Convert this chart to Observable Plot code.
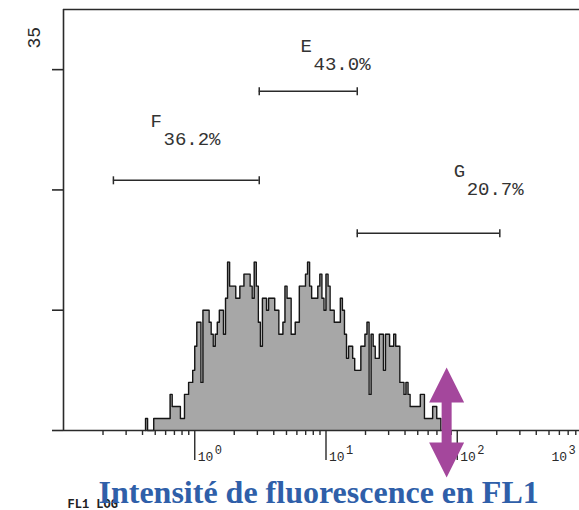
<!DOCTYPE html>
<html>
<head>
<meta charset="utf-8">
<script src="https://cdn.jsdelivr.net/npm/d3@7"></script>
<script src="https://cdn.jsdelivr.net/npm/@observablehq/plot@0.6"></script>
<style>
  html, body { margin: 0; padding: 0; background: #fff; overflow: hidden; }
</style>
</head>
<body>
<div id="chart"></div>
<script>
// FL1 fluorescence histogram: event counts per channel, 64 channels per decade from 10^-1
const channelsPerDecade = 64;
const firstChannel = 40;
const counts = [
  1, 0, 0, 0, 1, 1, 1, 1, 1, 1,
  1, 1, 3, 2, 2, 2, 2, 1, 1, 3,
  3, 4, 4, 5, 7, 9, 9, 4, 10, 10,
  10, 9, 8, 7, 8, 9, 10, 10, 8, 11,
  14, 12, 12, 12, 11, 11, 12, 12, 13, 13,
  13, 12, 11, 14, 12, 9, 7, 11, 11, 10,
  11, 11, 11, 10, 10, 8, 8, 9, 12, 11,
  11, 8, 8, 9, 9, 12, 12, 12, 13, 14,
  12, 11, 11, 11, 12, 13, 11, 10, 13, 12,
  10, 10, 9, 9, 9, 11, 10, 8, 6, 7,
  7, 6, 5, 5, 5, 7, 7, 8, 9, 3,
  8, 7, 6, 6, 8, 8, 5, 8, 8, 7,
  7, 8, 7, 7, 4, 4, 3, 4, 3, 2,
  2, 2, 2, 2, 3, 3, 1, 1, 1, 1,
  2, 2, 1, 1
];

// Marker gates (FL1 range, drawn at a count level) and their percentages
const gateNames = ["F", "E", "G"];
const gatePercents = [36.2, 43.0, 20.7];
const gateLow = [0.24, 3.1, 17.3];
const gateHigh = [3.1, 17.3, 211];
const gateLevel = [20.8, 28.2, 16.4];
const gateLabelFL1 = [0.46, 6.4, 93.9];
const gateLabelCount = [25.7, 32.0, 21.6];

// Axes
const xDomain = [0.1, 1000];
const yMax = 35;
const yTicks = [0, 10, 20, 30];
const decades = [1, 10, 100, 1000];
const decadeExponents = ["0", "1", "2", "3"];
const axisName = "FL1 LOG";
const title = "Intensité de fluorescence en FL1";

// Threshold marker
const markerFL1 = 83;

const mono = "Liberation Mono, DejaVu Sans Mono, monospace";
const ink = "#2a2a2a";

// Build step outline from channel counts
const bins = counts.map((n, i) => ({
  lo: 10 ** ((firstChannel + i) / channelsPerDecade - 1),
  hi: 10 ** ((firstChannel + i + 1) / channelsPerDecade - 1),
  n
}));
const outline = [
  {x: bins[0].lo, y: 0},
  ...bins.map(b => ({x: b.lo, y: b.n})),
  {x: bins[bins.length - 1].hi, y: 0}
];

const gates = gateNames.map((name, i) => ({
  name,
  pct: gatePercents[i],
  lo: gateLow[i],
  hi: gateHigh[i],
  level: gateLevel[i],
  lx: gateLabelFL1[i],
  ly: gateLabelCount[i]
}));
const gateEnds = gates.flatMap(g => [{x: g.lo, y: g.level}, {x: g.hi, y: g.level}]);

// Minor log ticks (2..9 in every decade)
const minorTicks = [];
for (const d of [0.1, 1, 10, 100]) for (let k = 2; k <= 9; ++k) minorTicks.push(d * k);

// Small vertical bar used as gate end caps
const capSymbol = {
  draw(ctx) { ctx.moveTo(0, -4); ctx.lineTo(0, 4); }
};
// Filled double-headed vertical arrow
const doubleArrow = {
  draw(ctx) {
    ctx.moveTo(0, -55);
    ctx.lineTo(17.5, -20);
    ctx.lineTo(5, -20);
    ctx.lineTo(5, 20);
    ctx.lineTo(17.5, 20);
    ctx.lineTo(0, 55);
    ctx.lineTo(-17.5, 20);
    ctx.lineTo(-5, 20);
    ctx.lineTo(-5, -20);
    ctx.lineTo(-17.5, -20);
    ctx.closePath();
  }
};

const chart = Plot.plot({
  width: 579,
  height: 510,
  marginTop: 9,
  marginBottom: 80,
  marginLeft: 63,
  marginRight: 0,
  x: {type: "log", domain: xDomain, range: [63, 588], axis: null},
  y: {domain: [0, yMax], axis: null},
  style: {background: "#fff", overflow: "visible"},
  marks: [
    // histogram
    Plot.areaY(outline, {x: "x", y: "y", curve: "step-after", fill: "#a7a7a7"}),
    Plot.lineY(outline, {x: "x", y: "y", curve: "step-after", stroke: "#151515", strokeWidth: 1.4}),

    // frame
    Plot.ruleY([0, yMax], {y: d => d, x1: xDomain[0], x2: xDomain[1], stroke: ink, strokeWidth: 1.6}),
    Plot.ruleX(xDomain, {x: d => d, y1: 0, y2: yMax, stroke: ink, strokeWidth: 1.6}),

    // axes
    Plot.axisY(yTicks, {anchor: "left", tickSize: 11, tickFormat: () => "", label: null, stroke: ink, strokeWidth: 1.6}),
    Plot.axisX(minorTicks, {anchor: "bottom", tickSize: 5, tickFormat: () => "", label: null, stroke: ink, strokeWidth: 1.4}),
    Plot.axisX(decades.slice(0, 3), {anchor: "bottom", tickSize: 30, tickFormat: () => "", label: null, stroke: ink, strokeWidth: 1.4}),
    Plot.text(decades.slice(0, 3), {x: d => d, y: 0, text: () => "10", textAnchor: "start", lineAnchor: "bottom", dx: 3, dy: 30, fontFamily: mono, fontSize: 13, fill: ink}),
    Plot.text(decades.slice(0, 3), {x: d => d, y: 0, text: (d, i) => decadeExponents[i], textAnchor: "start", lineAnchor: "bottom", dx: 20, dy: 23, fontFamily: mono, fontSize: 12, fill: ink}),
    Plot.text(decades.slice(3), {x: d => d, y: 0, text: () => "10", textAnchor: "start", lineAnchor: "bottom", dx: -37, dy: 30, fontFamily: mono, fontSize: 13, fill: ink}),
    Plot.text(decades.slice(3), {x: d => d, y: 0, text: () => decadeExponents[3], textAnchor: "start", lineAnchor: "bottom", dx: -20, dy: 23, fontFamily: mono, fontSize: 12, fill: ink}),
    Plot.text([yMax], {frameAnchor: "top-left", text: d => String(d), rotate: -90, dx: -36, dy: 39, fontFamily: mono, fontSize: 18, fill: ink}),
    Plot.text([axisName], {frameAnchor: "bottom-left", text: d => d, textAnchor: "start", lineAnchor: "bottom", dx: 4, dy: 77, fontFamily: mono, fontWeight: "bold", fontSize: 12, fill: "#222"}),

    // gates
    Plot.ruleY(gates, {y: "level", x1: "lo", x2: "hi", stroke: ink, strokeWidth: 1.5}),
    Plot.dot(gateEnds, {x: "x", y: "y", symbol: capSymbol, r: 4, fill: "none", stroke: ink, strokeWidth: 1.5}),
    Plot.text(gates, {x: "lx", y: "ly", text: "name", textAnchor: "start", fontFamily: mono, fontSize: 19, fill: "#333"}),
    Plot.text(gates, {x: "lx", y: "ly", text: d => d.pct.toFixed(1) + "%", textAnchor: "start", dx: 13, dy: 18, fontFamily: mono, fontSize: 19, fill: "#333"}),

    // threshold arrow
    Plot.dot([markerFL1], {x: d => d, y: 0, dy: -8, symbol: doubleArrow, r: 10, fill: "#a4479c", stroke: "none"}),

    // title
    Plot.text([title], {frameAnchor: "bottom-left", text: d => d, textAnchor: "start", lineAnchor: "bottom", dx: 35, dy: 72, fontFamily: "Liberation Serif, DejaVu Serif, serif", fontWeight: "bold", fontSize: 32, fill: "#2f5fa9"})
  ]
});

document.getElementById("chart").append(chart);
</script>
</body>
</html>
